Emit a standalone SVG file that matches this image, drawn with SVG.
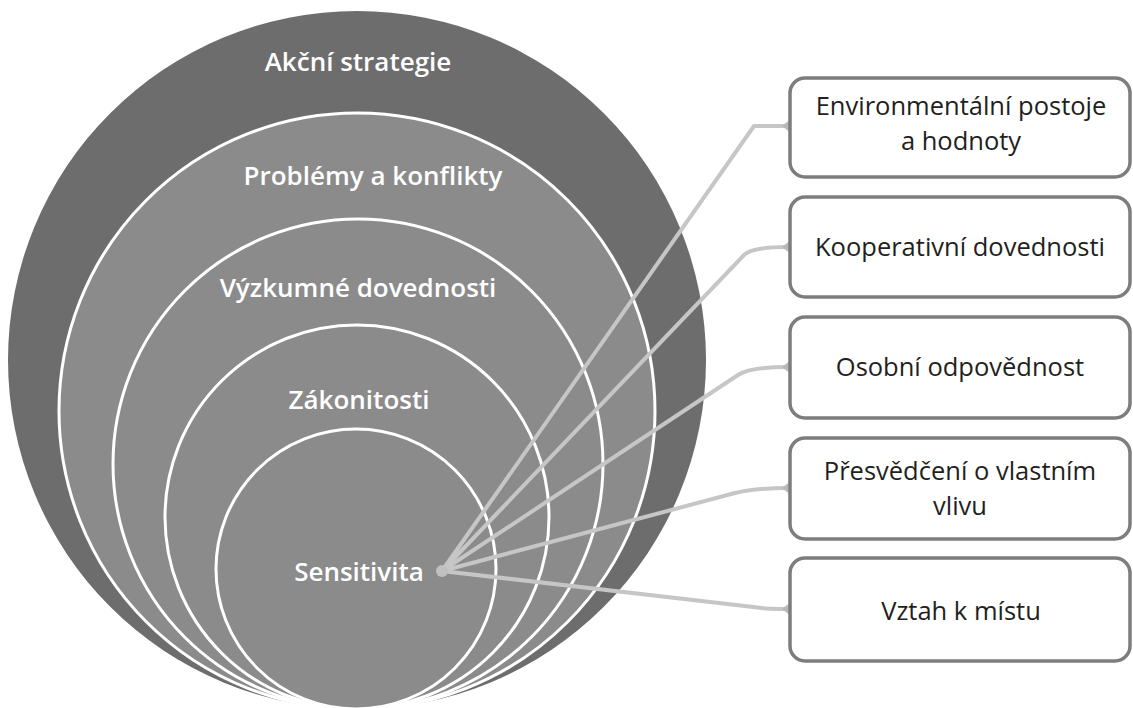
<svg xmlns="http://www.w3.org/2000/svg" width="1133" height="708" viewBox="0 0 1133 708">
  <style>
    .ring { fill: #8b8b8b; stroke: #ffffff; stroke-width: 3; }
    .clabel { font-family: "Open Sans", "Liberation Sans", sans-serif; font-weight: 600; font-size: 26px; fill: #ffffff; text-anchor: middle; }
    .box { fill: #ffffff; stroke: #7d7d7d; stroke-width: 3.5; }
    .blabel { font-family: "Open Sans", "Liberation Sans", sans-serif; font-size: 25.5px; fill: #231f20; text-anchor: middle; }
    .conn { fill: none; stroke: #c6c6c6; stroke-width: 4; stroke-linejoin: round; stroke-linecap: round; }
    .nub { fill: #b8b8b8; }
  </style>
  <rect width="1133" height="708" fill="#ffffff"/>

  <g id="circles">
    <g id="akcni-strategie">
      <circle cx="357" cy="360" r="349" fill="#6d6d6d"/>
      <text class="clabel" x="358" y="71">Akční strategie</text>
    </g>
    <g id="problemy-a-konflikty">
      <circle class="ring" cx="357" cy="411" r="298"/>
      <text class="clabel" x="373" y="185">Problémy a konflikty</text>
    </g>
    <g id="vyzkumne-dovednosti">
      <circle class="ring" cx="358" cy="464" r="245"/>
      <text class="clabel" x="358" y="297">Výzkumné dovednosti</text>
    </g>
    <g id="zakonitosti">
      <circle class="ring" cx="357" cy="517" r="192"/>
      <text class="clabel" x="359" y="409">Zákonitosti</text>
    </g>
    <g id="sensitivita">
      <circle class="ring" cx="356" cy="569" r="140"/>
      <text class="clabel" x="359" y="581">Sensitivita</text>
    </g>
  </g>

  <g id="connectors">
    <path class="conn" d="M442,571 L754,126 L788,126"/>
    <path class="conn" d="M442,571 L744,255 Q752,247 788,247"/>
    <path class="conn" d="M442,571 L738,375 Q750,367 788,367"/>
    <path class="conn" d="M442,571 L735,493 Q754,488 788,488"/>
    <path class="conn" d="M442,571 L762,608 Q766,609 788,609"/>
    <circle cx="442" cy="571" r="6" fill="#c0c0c0"/>
    <polygon class="nub" points="782,126 791,119 791,133"/>
    <polygon class="nub" points="782,247 791,240 791,254"/>
    <polygon class="nub" points="782,367 791,360 791,374"/>
    <polygon class="nub" points="782,488 791,481 791,495"/>
    <polygon class="nub" points="782,609 791,602 791,616"/>
  </g>

  <g id="box-environmentalni">
    <rect class="box" x="790" y="78" width="340" height="99" rx="15"/>
    <text class="blabel" x="961" y="115">Environmentální postoje</text>
    <text class="blabel" x="961" y="150">a hodnoty</text>
  </g>
  <g id="box-kooperativni">
    <rect class="box" x="790" y="197" width="340" height="100" rx="15"/>
    <text class="blabel" x="960" y="256">Kooperativní dovednosti</text>
  </g>
  <g id="box-osobni">
    <rect class="box" x="790" y="317" width="340" height="101" rx="15"/>
    <text class="blabel" x="960" y="376">Osobní odpovědnost</text>
  </g>
  <g id="box-presvedceni">
    <rect class="box" x="790" y="438" width="340" height="101" rx="15"/>
    <text class="blabel" x="960" y="480">Přesvědčení o vlastním</text>
    <text class="blabel" x="960" y="515">vlivu</text>
  </g>
  <g id="box-vztah">
    <rect class="box" x="790" y="558" width="340" height="103" rx="15"/>
    <text class="blabel" x="961" y="620">Vztah k místu</text>
  </g>
</svg>
